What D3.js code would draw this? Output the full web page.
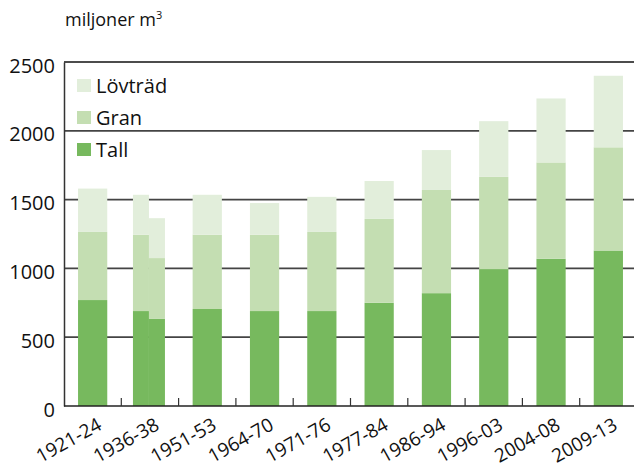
<!DOCTYPE html>
<html>
<head>
<meta charset="utf-8">
<script src="https://cdn.jsdelivr.net/npm/d3@7"></script>
<style>
  body { margin: 0; background: #fff; }
  svg { display: block; font-family: "Open Sans", "DejaVu Sans", sans-serif; }
</style>
</head>
<body>
<div id="chart"></div>
<script>
// ---------- data (miljoner m3) ----------
const periods = ["1921-24", "1936-38", "1951-53", "1964-70", "1971-76",
  "1977-84", "1986-94", "1996-03", "2004-08", "2009-13"];

// one entry per bar; 1936-38 has two inventories
const barPeriod = ["1921-24", "1936-38", "1936-38", "1951-53", "1964-70", "1971-76",
  "1977-84", "1986-94", "1996-03", "2004-08", "2009-13"];
const barSlot = [0, 0, 1, 0, 0, 0, 0, 0, 0, 0, 0];
const tall = [770, 690, 635, 705, 690, 690, 750, 820, 995, 1070, 1130];
const gran = [495, 555, 440, 540, 555, 575, 610, 750, 670, 700, 750];
const lovtrad = [315, 290, 290, 290, 230, 255, 275, 290, 405, 465, 520];

const seriesKeys = ["Tall", "Gran", "Lövträd"];
const colors = ["#77b95e", "#c4deb2", "#e2eedb"];
const yTicks = [0, 500, 1000, 1500, 2000, 2500];

// ---------- svg ----------
const width = 634;
const height = 468;
const margin = { top: 62, right: -3, bottom: 62, left: 64 };

const svg = d3.select("#chart")
  .append("svg")
  .attr("width", width)
  .attr("height", height);

const rows = barPeriod.map((p, i) => ({
  period: p, slot: barSlot[i],
  "Tall": tall[i], "Gran": gran[i], "Lövträd": lovtrad[i]
}));

const stacked = d3.stack().keys(seriesKeys)(rows);

// ---------- scales ----------
const x = d3.scaleBand()
  .domain(periods)
  .range([margin.left, width - margin.right])
  .paddingInner(0)
  .paddingOuter(0);

const y = d3.scaleLinear()
  .domain([0, 2500])
  .range([height - margin.bottom, margin.top]);

const color = d3.scaleOrdinal().domain(seriesKeys).range(colors);

const barW = x.bandwidth() * 0.51;
const halfW = 16;

function barX(d) {
  const c = x(d.data.period) + x.bandwidth() / 2;
  if (d.data.period === "1936-38") return c - 17 + d.data.slot * halfW;
  return c - barW / 2;
}
function barWidth(d) {
  return d.data.period === "1936-38" ? halfW : barW;
}

// ---------- grid ----------
svg.append("g")
  .selectAll("line")
  .data(yTicks.filter(t => t > 0 && t < 2500))
  .join("line")
  .attr("x1", margin.left)
  .attr("x2", width)
  .attr("y1", d => y(d))
  .attr("y2", d => y(d))
  .attr("stroke", "#444")
  .attr("stroke-width", 1.7);

// ---------- bars ----------
svg.append("g")
  .selectAll("g")
  .data(stacked)
  .join("g")
  .attr("fill", d => color(d.key))
  .selectAll("rect")
  .data(d => d)
  .join("rect")
  .attr("x", barX)
  .attr("width", barWidth)
  .attr("y", d => y(d[1]))
  .attr("height", d => y(d[0]) - y(d[1]));

// ---------- axes ----------
// top frame line
svg.append("line")
  .attr("x1", margin.left).attr("x2", width)
  .attr("y1", y(2500)).attr("y2", y(2500))
  .attr("stroke", "#111").attr("stroke-width", 1.5);

// left axis
const yAxis = d3.axisLeft(y).tickValues(yTicks).tickSize(0).tickPadding(9)
  .tickFormat(d3.format("d"));
svg.append("g")
  .attr("transform", `translate(${margin.left},0)`)
  .call(yAxis)
  .call(g => g.select(".domain").attr("stroke", "#333").attr("stroke-width", 1.5))
  .call(g => g.selectAll("text")
    .attr("font-size", 20)
    .attr("dy", "0.5em")
    .attr("fill", "#111")
    .attr("font-family", "'Open Sans', sans-serif"));

// bottom axis: small ticks between the bands
svg.append("line")
  .attr("x1", margin.left).attr("x2", width)
  .attr("y1", y(0)).attr("y2", y(0))
  .attr("stroke", "#222").attr("stroke-width", 1.6);

svg.append("g")
  .selectAll("line")
  .data(periods.slice(1))
  .join("line")
  .attr("x1", d => x(d))
  .attr("x2", d => x(d))
  .attr("y1", y(0))
  .attr("y2", y(0) - 8)
  .attr("stroke", "#333")
  .attr("stroke-width", 1.2);

svg.append("g")
  .selectAll("text")
  .data(periods)
  .join("text")
  .attr("transform", d => `translate(${x(d) + x.bandwidth() / 2 + 4},${y(0) + 11}) rotate(-29)`)
  .attr("text-anchor", "end")
  .attr("dy", "0.7em")
  .attr("font-size", 19)
  .attr("fill", "#111")
  .text(d => d);

// ---------- unit label ----------
const unit = svg.append("text")
  .attr("x", 65)
  .attr("y", 26)
  .attr("font-size", 18)
  .attr("fill", "#111")
  .text("miljoner m");
unit.append("tspan")
  .attr("font-size", 11)
  .attr("dy", -7)
  .text("3");

// ---------- legend ----------
const legend = svg.append("g")
  .selectAll("g")
  .data(seriesKeys.slice().reverse())
  .join("g")
  .attr("transform", (d, i) => `translate(77,${79 + i * 32})`);

legend.append("rect")
  .attr("width", 14)
  .attr("height", 13)
  .attr("fill", d => color(d));

legend.append("text")
  .attr("x", 19)
  .attr("y", 7)
  .attr("dy", "0.35em")
  .attr("font-size", 20)
  .attr("fill", "#111")
  .text(d => d);
</script>
</body>
</html>
